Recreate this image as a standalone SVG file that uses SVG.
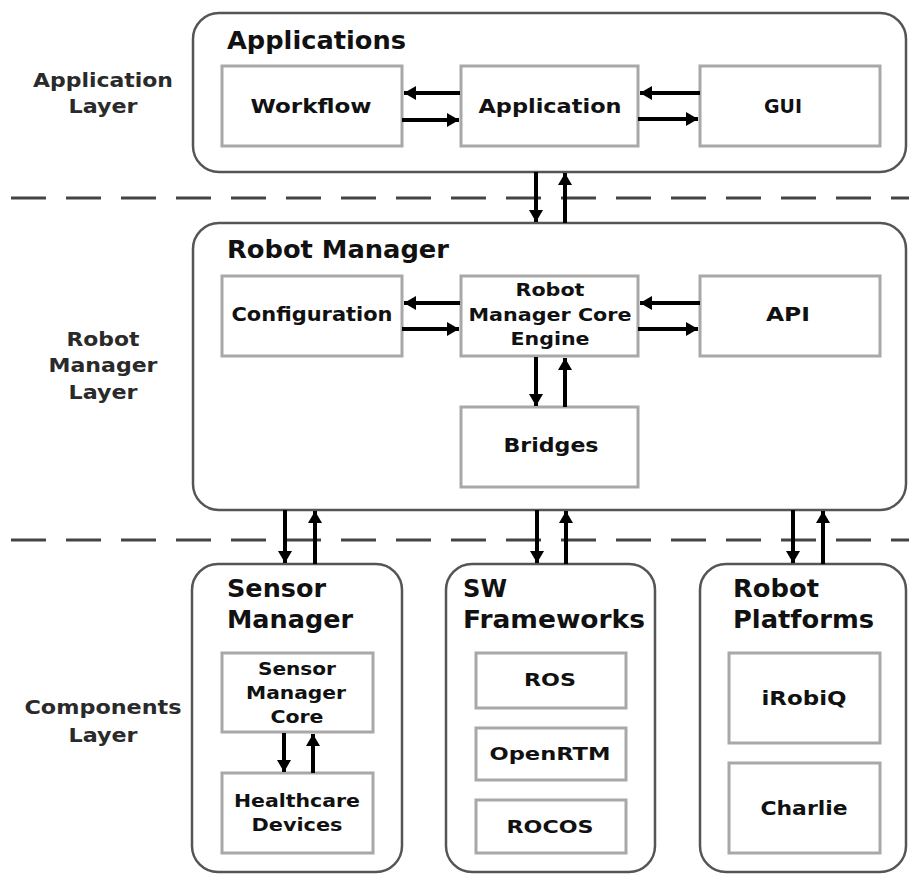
<svg xmlns="http://www.w3.org/2000/svg" width="909" height="875" viewBox="0 0 909 875">
<style>
.bg{fill:#fff}
.cont{fill:#fff;stroke:#555;stroke-width:2.5}
.box{fill:#fff;stroke:#a8a8a8;stroke-width:3}
.t{font-family:"DejaVu Sans",Verdana,sans-serif;font-weight:bold;fill:#111}
.title{font-size:24px}
.lbl{font-size:20px;text-anchor:middle}
.sm{font-size:18px;text-anchor:middle}
.layer{font-size:19px;text-anchor:middle;fill:#2a2a2a}
.dash{stroke:#444;stroke-width:3;stroke-dasharray:35 20;fill:none}
.arr{stroke:#000;stroke-width:4;fill:none;marker-end:url(#ah)}
</style>
<defs>
<marker id="ah" markerUnits="userSpaceOnUse" markerWidth="14" markerHeight="14" refX="12" refY="7" orient="auto">
<path d="M0,0 L12,7 L0,14 z" fill="#000"/>
</marker>
</defs>
<rect class="bg" x="0" y="0" width="909" height="875"/>

<g id="layer-labels">
<text class="t layer" x="103" y="87" textLength="140" lengthAdjust="spacingAndGlyphs">Application</text>
<text class="t layer" x="103" y="113" textLength="69" lengthAdjust="spacingAndGlyphs">Layer</text>
<text class="t layer" x="103" y="346" textLength="73" lengthAdjust="spacingAndGlyphs">Robot</text>
<text class="t layer" x="103" y="372" textLength="109" lengthAdjust="spacingAndGlyphs">Manager</text>
<text class="t layer" x="103" y="399" textLength="69" lengthAdjust="spacingAndGlyphs">Layer</text>
<text class="t layer" x="103" y="714" textLength="157" lengthAdjust="spacingAndGlyphs">Components</text>
<text class="t layer" x="103" y="742" textLength="69" lengthAdjust="spacingAndGlyphs">Layer</text>
</g>

<g id="separators">
<line class="dash" x1="11" y1="198" x2="909" y2="198"/>
<line class="dash" x1="11" y1="540" x2="909" y2="540"/>
</g>

<g id="applications">
<rect class="cont" x="193" y="13" width="713" height="159" rx="26"/>
<text class="t title" x="227" y="49" textLength="179" lengthAdjust="spacingAndGlyphs">Applications</text>
</g>
<g id="workflow">
<rect class="box" x="222" y="66" width="180" height="80"/>
<text class="t lbl" x="311" y="113" textLength="121" lengthAdjust="spacingAndGlyphs">Workflow</text>
</g>
<g id="application">
<rect class="box" x="461" y="66" width="177" height="80"/>
<text class="t lbl" x="550" y="113" textLength="143" lengthAdjust="spacingAndGlyphs">Application</text>
</g>
<g id="gui">
<rect class="box" x="700" y="66" width="180" height="80"/>
<text class="t lbl" x="783" y="113" textLength="38" lengthAdjust="spacingAndGlyphs">GUI</text>
</g>

<g id="robot-manager">
<rect class="cont" x="193" y="223" width="713" height="287" rx="26"/>
<text class="t title" x="227" y="258" textLength="222" lengthAdjust="spacingAndGlyphs">Robot Manager</text>
</g>
<g id="configuration">
<rect class="box" x="222" y="276" width="180" height="80"/>
<text class="t lbl" x="312" y="321" textLength="161" lengthAdjust="spacingAndGlyphs">Configuration</text>
</g>
<g id="core-engine">
<rect class="box" x="461" y="276" width="177" height="80"/>
<text class="t sm" x="550" y="296" textLength="69" lengthAdjust="spacingAndGlyphs">Robot</text>
<text class="t sm" x="550" y="321" textLength="163" lengthAdjust="spacingAndGlyphs">Manager Core</text>
<text class="t sm" x="550" y="345" textLength="79" lengthAdjust="spacingAndGlyphs">Engine</text>
</g>
<g id="api">
<rect class="box" x="700" y="276" width="180" height="80"/>
<text class="t lbl" x="788" y="321" textLength="44" lengthAdjust="spacingAndGlyphs">API</text>
</g>
<g id="bridges">
<rect class="box" x="461" y="407" width="177" height="80"/>
<text class="t lbl" x="551" y="452" textLength="95" lengthAdjust="spacingAndGlyphs">Bridges</text>
</g>

<g id="sensor-manager">
<rect class="cont" x="192" y="564" width="210" height="308" rx="26"/>
<text class="t title" x="227" y="597" textLength="99" lengthAdjust="spacingAndGlyphs">Sensor</text>
<text class="t title" x="227" y="628" textLength="126" lengthAdjust="spacingAndGlyphs">Manager</text>
</g>
<g id="sensor-manager-core">
<rect class="box" x="222" y="653" width="151" height="79"/>
<text class="t sm" x="297" y="675" textLength="78" lengthAdjust="spacingAndGlyphs">Sensor</text>
<text class="t sm" x="296" y="699" textLength="100" lengthAdjust="spacingAndGlyphs">Manager</text>
<text class="t sm" x="297" y="723" textLength="53" lengthAdjust="spacingAndGlyphs">Core</text>
</g>
<g id="healthcare-devices">
<rect class="box" x="222" y="773" width="151" height="80"/>
<text class="t sm" x="297" y="807" textLength="126" lengthAdjust="spacingAndGlyphs">Healthcare</text>
<text class="t sm" x="297" y="831" textLength="91" lengthAdjust="spacingAndGlyphs">Devices</text>
</g>

<g id="sw-frameworks">
<rect class="cont" x="446" y="564" width="209" height="308" rx="26"/>
<text class="t title" x="463" y="597" textLength="44" lengthAdjust="spacingAndGlyphs">SW</text>
<text class="t title" x="463" y="628" textLength="182" lengthAdjust="spacingAndGlyphs">Frameworks</text>
</g>
<g id="ros">
<rect class="box" x="476" y="653" width="150" height="55"/>
<text class="t sm" x="550" y="686" textLength="52" lengthAdjust="spacingAndGlyphs">ROS</text>
</g>
<g id="openrtm">
<rect class="box" x="476" y="728" width="150" height="52"/>
<text class="t sm" x="550" y="760" textLength="121" lengthAdjust="spacingAndGlyphs">OpenRTM</text>
</g>
<g id="rocos">
<rect class="box" x="476" y="800" width="150" height="53"/>
<text class="t sm" x="550" y="833" textLength="87" lengthAdjust="spacingAndGlyphs">ROCOS</text>
</g>

<g id="robot-platforms">
<rect class="cont" x="700" y="564" width="206" height="308" rx="26"/>
<text class="t title" x="733" y="597" textLength="86" lengthAdjust="spacingAndGlyphs">Robot</text>
<text class="t title" x="733" y="628" textLength="141" lengthAdjust="spacingAndGlyphs">Platforms</text>
</g>
<g id="irobiq">
<rect class="box" x="729" y="653" width="151" height="90"/>
<text class="t lbl" x="804" y="705" textLength="85" lengthAdjust="spacingAndGlyphs">iRobiQ</text>
</g>
<g id="charlie">
<rect class="box" x="729" y="763" width="151" height="90"/>
<text class="t lbl" x="804" y="815" textLength="87" lengthAdjust="spacingAndGlyphs">Charlie</text>
</g>

<g id="connectors">
<line class="arr" x1="460" y1="93" x2="404" y2="93"/>
<line class="arr" x1="402" y1="120" x2="459" y2="120"/>
<line class="arr" x1="700" y1="93" x2="640" y2="93"/>
<line class="arr" x1="638" y1="119" x2="698" y2="119"/>
<line class="arr" x1="536" y1="172" x2="536" y2="222"/>
<line class="arr" x1="565" y1="223" x2="565" y2="173"/>
<line class="arr" x1="460" y1="303" x2="404" y2="303"/>
<line class="arr" x1="402" y1="329" x2="459" y2="329"/>
<line class="arr" x1="700" y1="303" x2="640" y2="303"/>
<line class="arr" x1="638" y1="329" x2="698" y2="329"/>
<line class="arr" x1="536" y1="357" x2="536" y2="406"/>
<line class="arr" x1="565" y1="407" x2="565" y2="358"/>
<line class="arr" x1="285" y1="510" x2="285" y2="563"/>
<line class="arr" x1="315" y1="564" x2="315" y2="511"/>
<line class="arr" x1="537" y1="510" x2="537" y2="563"/>
<line class="arr" x1="566" y1="564" x2="566" y2="511"/>
<line class="arr" x1="793" y1="510" x2="793" y2="563"/>
<line class="arr" x1="823" y1="564" x2="823" y2="511"/>
<line class="arr" x1="284" y1="733" x2="284" y2="772"/>
<line class="arr" x1="313" y1="773" x2="313" y2="734"/>
</g>
</svg>
